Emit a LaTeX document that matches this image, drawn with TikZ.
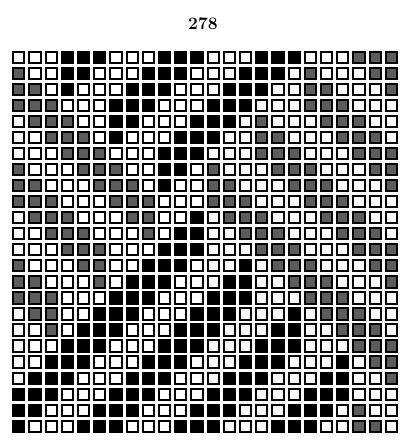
\documentclass[tikz,border=0pt]{standalone}
\definecolor{weftgray}{gray}{0.36}
\begin{document}
\begin{tikzpicture}[x=1pt, y=-1pt,
  sq/.style={draw=black, line width=2pt},
  pagelabel/.style={font=\fontsize{17.5}{17.5}\selectfont\bfseries}]
  \useasboundingbox (0,0) rectangle (401,445);

  % page number
  \node[pagelabel] (pagenum) at (203,24) {278};

  % squares: 0 = white, 1 = black, 2 = gray
  \foreach \r/\row in {
     1/{0,0,0,1,1,1,0,0,0,1,1,1,0,0,0,1,1,1,0,0,0,2,2,2},
     2/{2,0,0,1,1,0,0,0,1,1,1,0,0,0,1,1,1,0,2,0,0,0,2,2},
     3/{2,2,0,1,0,0,0,1,1,1,0,0,0,1,1,1,0,0,2,2,0,0,0,2},
     4/{2,2,2,0,0,0,1,1,1,0,0,0,1,1,1,0,0,0,2,2,2,0,0,0},
     5/{0,2,2,2,0,0,1,1,0,0,0,1,1,1,0,2,0,0,0,2,2,2,0,0},
     6/{0,0,2,2,2,0,1,0,0,0,1,1,1,0,0,2,2,0,0,0,2,2,2,0},
     7/{0,0,0,2,2,2,0,0,0,1,1,1,0,0,0,2,2,2,0,0,0,2,2,2},
     8/{2,0,0,0,2,2,2,0,0,1,1,0,2,0,0,0,2,2,2,0,0,0,2,2},
     9/{2,2,0,0,0,2,2,2,0,1,0,0,2,2,0,0,0,2,2,2,0,0,0,2},
    10/{2,2,2,0,0,0,2,2,2,0,0,0,2,2,2,0,0,0,2,2,2,0,0,0},
    11/{0,2,2,2,0,0,0,2,2,0,0,1,0,2,2,2,0,0,0,2,2,2,0,0},
    12/{0,0,2,2,2,0,0,0,2,0,1,1,0,0,2,2,2,0,0,0,2,2,2,0},
    13/{0,0,0,2,2,2,0,0,0,1,1,1,0,0,0,2,2,2,0,0,0,2,2,2},
    14/{2,0,0,0,2,2,0,0,1,1,1,0,0,0,1,0,2,2,2,0,0,0,2,2},
    15/{2,2,0,0,0,2,0,1,1,1,0,0,0,1,1,0,0,2,2,2,0,0,0,2},
    16/{2,2,2,0,0,0,1,1,1,0,0,0,1,1,1,0,0,0,2,2,2,0,0,0},
    17/{0,2,2,0,0,1,1,1,0,0,0,1,1,1,0,0,0,1,0,2,2,2,0,0},
    18/{0,0,2,0,1,1,1,0,0,0,1,1,1,0,0,0,1,1,0,0,2,2,2,0},
    19/{0,0,0,1,1,1,0,0,0,1,1,1,0,0,0,1,1,1,0,0,0,2,2,2},
    20/{0,0,1,1,1,0,0,0,1,1,1,0,0,0,1,1,1,0,0,0,1,0,2,2},
    21/{0,1,1,1,0,0,0,1,1,1,0,0,0,1,1,1,0,0,0,1,1,0,0,2},
    22/{1,1,1,0,0,0,1,1,1,0,0,0,1,1,1,0,0,0,1,1,1,0,0,0},
    23/{1,1,0,0,0,1,1,1,0,0,0,1,1,1,0,0,0,1,1,1,0,2,0,0},
    24/{1,0,0,0,1,1,1,0,0,0,1,1,1,0,0,0,1,1,1,0,0,2,2,0}} {
    \foreach \v [count=\c] in \row {
      \ifcase\v \def\sqfill{white}\or \def\sqfill{black}\or \def\sqfill{weftgray}\fi
      \draw[sq, fill=\sqfill] ({18.8+16.2*(\c-1)-5.6}, {57.5+16.03*(\r-1)-5.6}) rectangle ++(11.2,11.2);
    }
  }
\end{tikzpicture}
\end{document}
